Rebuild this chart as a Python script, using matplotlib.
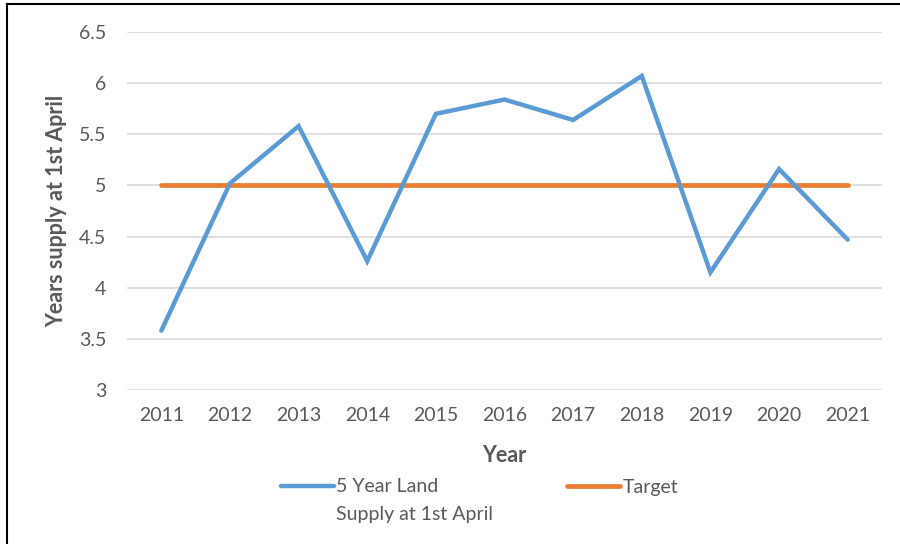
import matplotlib
matplotlib.use("Agg")
import matplotlib.pyplot as plt
from matplotlib.lines import Line2D

years = ["2011", "2012", "2013", "2014", "2015", "2016", "2017", "2018", "2019", "2020", "2021"]
supply = [3.58, 5.02, 5.58, 4.26, 5.70, 5.84, 5.64, 6.07, 4.15, 5.16, 4.47]
target = [5, 5, 5, 5, 5, 5, 5, 5, 5, 5, 5]
yticks = [3, 3.5, 4, 4.5, 5, 5.5, 6, 6.5]
ytick_labels = ["3", "3.5", "4", "4.5", "5", "5.5", "6", "6.5"]

plt.rcParams['font.family'] = ['Lato', 'DejaVu Sans']
TXT = '#595959'
BLUE = '#5B9BD5'
ORANGE = '#ED7D31'
FS = 14

fig = plt.figure(figsize=(9, 5.44), dpi=100)
ax = fig.add_axes([127/900, 1-390/544, (882-127)/900, (390-32)/544])

x = list(range(len(years)))
l1, = ax.plot(x, supply, color=BLUE, lw=3.2, solid_capstyle='round', solid_joinstyle='miter',
              label="5 Year Land", zorder=3)
l2, = ax.plot(x, target, color=ORANGE, lw=3.4, solid_capstyle='round', label="Target", zorder=2)

ax.set_xlim(-0.5, len(years) - 0.5)
ax.set_ylim(3, 6.5)
ax.set_yticks(yticks)
ax.set_yticklabels(ytick_labels)
ax.set_xticks(x)
ax.set_xticklabels(years)
ax.grid(axis='y', color='#D9D9D9', lw=1.2)
ax.set_axisbelow(True)
for s in ['top', 'right', 'left', 'bottom']:
    ax.spines[s].set_visible(False)
ax.tick_params(axis='both', length=0, labelsize=FS, colors=TXT)
ax.tick_params(axis='x', pad=12)
ax.tick_params(axis='y', pad=15)

fig.text(57/900, 1-211/544, "Years supply at 1st April", rotation=90, ha='center', va='center',
         rotation_mode='anchor', fontsize=15.5, fontweight='bold', color=TXT)
fig.text(504/900, 1-455/544, "Year", ha='center', va='center', fontsize=15.5,
         fontweight='bold', color=TXT)

leg = fig.legend(handles=[l1, l2], loc='center left', bbox_to_anchor=(281/900, 1-487/544),
                 ncol=2, frameon=False, fontsize=FS, handlelength=2.7, handletextpad=0.15,
                 columnspacing=6.6, labelcolor=TXT, borderaxespad=0, borderpad=0)

fig.canvas.draw()
t0 = leg.get_texts()[0]
bb = t0.get_window_extent()
fig.text(bb.x0 / 900, (bb.y0 - 19) / 544, "Supply at 1st April", ha='left', va='center',
         fontsize=FS, color=TXT)

# outer border (top and left visible)
fig.add_artist(Line2D([7/900, 1], [1-4/544, 1-4/544], transform=fig.transFigure, color='black', lw=1.5))
fig.add_artist(Line2D([7/900, 7/900], [0, 1-4/544], transform=fig.transFigure, color='black', lw=1.5))

fig.savefig("out.png", dpi=100)
